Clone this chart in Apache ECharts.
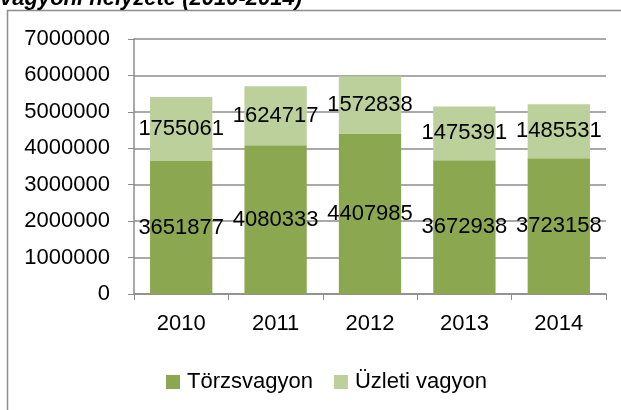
<!DOCTYPE html>
<html>
<head>
<meta charset="utf-8">
<script src="https://cdn.jsdelivr.net/npm/echarts@6/dist/echarts.min.js"></script>
<style>
html,body{margin:0;padding:0;background:#fff;}
#chart{width:621px;height:410px;}
</style>
</head>
<body>
<div id="chart"></div>
<script>
var years = ['2010', '2011', '2012', '2013', '2014'];
var torzsvagyon = [3651877, 4080333, 4407985, 3672938, 3723158];
var uzletiVagyon = [1755061, 1624717, 1572838, 1475391, 1485531];
var seriesNames = ['Törzsvagyon', 'Üzleti vagyon'];
var colors = ['#8BA74F', '#BBD09A'];

var chart = echarts.init(document.getElementById('chart'));
var font = '"Liberation Sans", Arial, sans-serif';
var fs = 22;

// felirat a sáv közepén
var lbl = {
    show: true,
    position: 'inside',
    color: '#000',
    fontFamily: font,
    fontSize: fs
};

chart.setOption({
    animation: false,
    color: colors,
    textStyle: {fontFamily: font},
    graphic: [
        {
            type: 'rect',
            shape: {x: 7.5, y: 10.5, width: 700, height: 500},
            style: {fill: 'none', stroke: '#8c8c8c', lineWidth: 1.5}
        },
        {
            type: 'text',
            left: 0,
            top: -12,
            style: {
                text: 'vagyoni helyzete (2010-2014)',
                font: 'italic bold 22px "Liberation Sans", Arial, sans-serif',
                fill: '#000'
            }
        }
    ],
    grid: {left: 134, right: 15, top: 39, bottom: 116},
    legend: {
        bottom: 12,
        left: 161,
        itemWidth: 14,
        itemHeight: 14,
        itemGap: 21,
        icon: 'rect',
        textStyle: {fontSize: fs, color: '#000', fontFamily: font, padding: [0, 0, 0, 2]},
        data: seriesNames
    },
    xAxis: {
        type: 'category',
        data: years,
        axisLine: {lineStyle: {color: '#8c8c8c', width: 1.5}},
        axisTick: {show: true, length: 6, lineStyle: {color: '#8c8c8c'}},
        axisLabel: {fontSize: fs, color: '#000', margin: 19}
    },
    yAxis: {
        type: 'value',
        min: 0,
        max: 7000000,
        interval: 1000000,
        axisLine: {show: true, lineStyle: {color: '#8c8c8c', width: 1.5}},
        axisTick: {show: true, length: 6, lineStyle: {color: '#8c8c8c'}},
        axisLabel: {fontSize: fs, color: '#000', margin: 24, formatter: function (v) { return String(v); }},
        splitLine: {lineStyle: {color: '#8c8c8c', width: 1.5}}
    },
    series: [
        {
            name: seriesNames[0],
            type: 'bar',
            stack: 'v',
            barWidth: '66%',
            data: torzsvagyon,
            label: lbl
        },
        {
            name: seriesNames[1],
            type: 'bar',
            stack: 'v',
            data: uzletiVagyon,
            label: lbl
        }
    ]
});
</script>
</body>
</html>
